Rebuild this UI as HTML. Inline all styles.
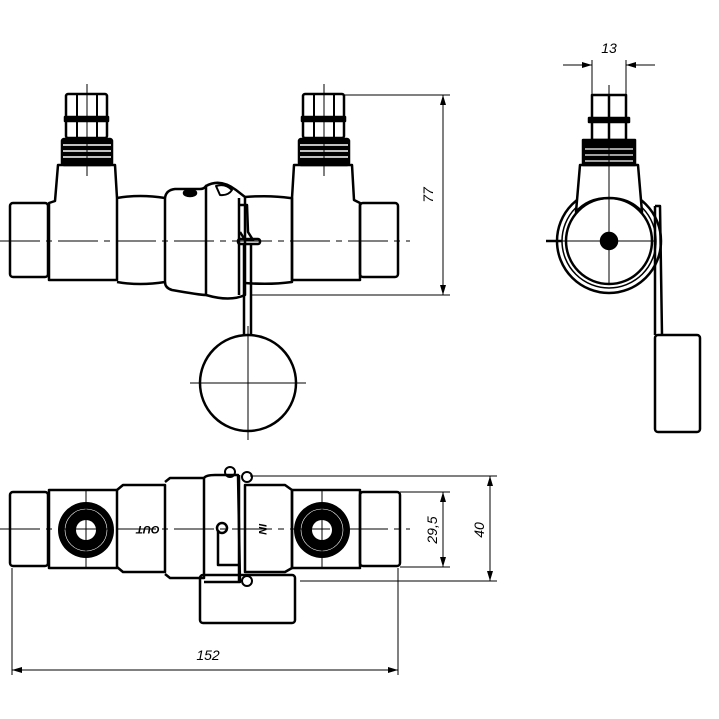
<!DOCTYPE html>
<html><head><meta charset="utf-8"><style>
html,body{margin:0;padding:0;background:#fff;}
svg{display:block}
text{font-family:"Liberation Sans",sans-serif;font-style:italic;fill:#000}
</style></head><body>
<svg width="719" height="719" viewBox="0 0 719 719" xmlns="http://www.w3.org/2000/svg">
<defs>
<marker id="a" viewBox="0 0 10 6" refX="10" refY="3" markerWidth="10" markerHeight="6" orient="auto-start-reverse" markerUnits="userSpaceOnUse"><path d="M0,0 L10,3 L0,6 z" fill="#000"/></marker>
<g id="nip">
 <rect x="-21" y="0" width="41" height="44" rx="2" fill="#fff" stroke="#000" stroke-width="2.5"/>
 <line x1="-10" y1="0" x2="-10" y2="44" stroke="#000" stroke-width="2"/>
 <line x1="10" y1="0" x2="10" y2="44" stroke="#000" stroke-width="2"/>
 <rect x="-22" y="23" width="43" height="4" fill="#000"/>
 <rect x="-25" y="45" width="50" height="26" rx="2" fill="#000"/>
 <line x1="-24" y1="51" x2="24" y2="51" stroke="#fff" stroke-width="1.5"/>
 <line x1="-24" y1="57" x2="24" y2="57" stroke="#fff" stroke-width="1.5"/>
 <line x1="-24" y1="63" x2="24" y2="63" stroke="#fff" stroke-width="1.5"/>
</g>
</defs>
<g fill="none" stroke="#000" stroke-width="2.5" stroke-linejoin="round">
<!-- FRONT VIEW -->
<use href="#nip" x="87" y="94"/>
<use href="#nip" x="324" y="94"/>
<rect x="10" y="203" width="38" height="74" rx="3"/>
<path d="M49,203 L55,201 L58,165 L115,165 L117,198 L117,280 L49,280 Z"/>
<path d="M117,198 Q140,194 165,198 L165,282 Q140,286 117,282"/>
<path d="M165,198 Q166,190 175,189 L200,189 Q204,189 206,186 L206,295 Q200,295 172,290 Q165,288 165,282"/>
<path d="M206,186 Q220,178 236,190 L245,197 L245,295 Q230,302 206,295"/>
<path d="M245,197 Q270,195 290,198 L292,198 L292,282 Q270,285 245,283"/>
<path d="M292,198 L294,165 L352,165 L354,200 L360,203 L360,280 L292,280 Z"/>
<rect x="360" y="203" width="38" height="74" rx="3"/>
<line x1="239" y1="198" x2="239" y2="295"/>
<path d="M240,205 L247,205 L248,232 L253,240 L245,240 L240,232"/>
<rect x="238" y="239" width="22" height="5" rx="2"/>
<line x1="244" y1="244" x2="244" y2="335"/>
<line x1="251" y1="244" x2="251" y2="335"/>
<circle cx="248" cy="383" r="48"/>
<ellipse cx="190" cy="193" rx="6" ry="3" fill="#000"/>
<path d="M216,186 Q225,183 232,190 Q228,196 220,195 Z" stroke-width="2"/>
</g>
<g stroke="#000" stroke-width="1" fill="none">
<line x1="0" y1="241" x2="410" y2="241" stroke-dasharray="40,6,6,6"/>
<line x1="87" y1="84" x2="87" y2="176"/>
<line x1="324" y1="84" x2="324" y2="176"/>
<line x1="248" y1="326" x2="248" y2="440"/>
<line x1="190" y1="383" x2="306" y2="383"/>
<line x1="345" y1="95" x2="450" y2="95"/>
<line x1="252" y1="295" x2="450" y2="295"/>
<line x1="443" y1="95" x2="443" y2="295" marker-start="url(#a)" marker-end="url(#a)"/>
</g>
<text transform="translate(433,195) rotate(-90)" font-size="14" text-anchor="middle">77</text>

<!-- SIDE VIEW -->
<g fill="none" stroke="#000" stroke-width="2.5" stroke-linejoin="round">
<circle cx="609" cy="241" r="52"/>
<circle cx="609" cy="241" r="47" stroke-width="1.5"/>
<circle cx="609" cy="241" r="43"/>
<path d="M580,165 L638,165 L642,212 Q630,198 609,198 Q588,198 576,212 Z" fill="#fff"/>
<rect x="592" y="95" width="34" height="24" fill="#fff"/>
<rect x="589" y="118" width="40" height="4" fill="#000"/>
<rect x="592" y="122" width="34" height="18" fill="#fff"/>
<rect x="583" y="140" width="52" height="25" fill="#000"/>
<line x1="609" y1="95" x2="609" y2="140"/>
<line x1="546" y1="241" x2="562" y2="241"/>
<path d="M655,206 L660,206 L662,335"/>
<line x1="655" y1="206" x2="655" y2="335"/>
<rect x="655" y="335" width="45" height="97" rx="3"/>
<circle cx="609" cy="241" r="8" fill="#000"/>
</g>
<g stroke="#fff" stroke-width="1.2">
<line x1="585" y1="149" x2="633" y2="149"/><line x1="585" y1="155" x2="633" y2="155"/><line x1="585" y1="161" x2="633" y2="161"/>
</g>
<g stroke="#000" stroke-width="1" fill="none">
<line x1="609" y1="85" x2="609" y2="285"/>
<line x1="560" y1="241" x2="655" y2="241"/>
<line x1="592" y1="60" x2="592" y2="95"/>
<line x1="626" y1="60" x2="626" y2="95"/>
<line x1="563" y1="65" x2="592" y2="65" marker-end="url(#a)"/>
<line x1="655" y1="65" x2="626" y2="65" marker-end="url(#a)"/>
</g>
<text x="609" y="53" font-size="14" text-anchor="middle">13</text>

<!-- TOP VIEW -->
<g fill="none" stroke="#000" stroke-width="2.5" stroke-linejoin="round">
<rect x="200" y="575" width="95" height="48" rx="3" fill="#fff"/>
<rect x="10" y="492" width="38" height="74" rx="3"/>
<rect x="49" y="490" width="68" height="78"/>
<path d="M117,490 L123,485 L165,485 L165,572 L123,572 L117,567"/>
<path d="M165,482 L170,478 L204,478 L204,578 L170,578 L165,574"/>
<path d="M204,478 Q206,475 215,475 L238,475 L240,582 L204,582"/>
<path d="M245,485 L285,485 L292,490 L292,568 L285,572 L245,572 Z"/>
<rect x="292" y="490" width="68" height="78"/>
<rect x="360" y="492" width="40" height="74" rx="3"/>
<line x1="239" y1="475" x2="239" y2="582"/>
<path d="M218,530 L218,565 L240,565"/>
<circle cx="222" cy="528" r="5"/>
<circle cx="230" cy="472" r="5" stroke-width="2"/>
<circle cx="247" cy="477" r="5" stroke-width="2"/>
<circle cx="247" cy="581" r="5" stroke-width="2"/>
</g>
<circle cx="86" cy="530" r="28" fill="#000"/>
<circle cx="86" cy="530" r="21" fill="none" stroke="#fff" stroke-width="0.6"/>
<circle cx="86" cy="530" r="10" fill="#fff"/>
<circle cx="322" cy="530" r="28" fill="#000"/>
<circle cx="322" cy="530" r="21" fill="none" stroke="#fff" stroke-width="0.6"/>
<circle cx="322" cy="530" r="10" fill="#fff"/>
<text transform="translate(148,529) rotate(180)" font-size="11" font-weight="bold" font-style="normal" text-anchor="middle" dominant-baseline="middle">OUT</text>
<text transform="translate(262,529) rotate(90)" font-size="11" font-weight="bold" font-style="normal" text-anchor="middle" dominant-baseline="middle">IN</text>
<g stroke="#000" stroke-width="1" fill="none">
<line x1="0" y1="529" x2="410" y2="529" stroke-dasharray="40,6,6,6"/>
<line x1="86" y1="490" x2="86" y2="568"/>
<line x1="322" y1="490" x2="322" y2="568"/>
<line x1="400" y1="492" x2="450" y2="492"/>
<line x1="400" y1="567" x2="450" y2="567"/>
<line x1="443" y1="492" x2="443" y2="567" marker-start="url(#a)" marker-end="url(#a)"/>
<line x1="250" y1="476" x2="497" y2="476"/>
<line x1="300" y1="581" x2="497" y2="581"/>
<line x1="490" y1="476" x2="490" y2="581" marker-start="url(#a)" marker-end="url(#a)"/>
<line x1="12" y1="568" x2="12" y2="675"/>
<line x1="398" y1="568" x2="398" y2="675"/>
<line x1="12" y1="670" x2="398" y2="670" marker-start="url(#a)" marker-end="url(#a)"/>
</g>
<text transform="translate(437,530) rotate(-90)" font-size="14" text-anchor="middle">29,5</text>
<text transform="translate(484,530) rotate(-90)" font-size="14" text-anchor="middle">40</text>
<text x="208" y="660" font-size="14" text-anchor="middle">152</text>
</svg>
</body></html>
